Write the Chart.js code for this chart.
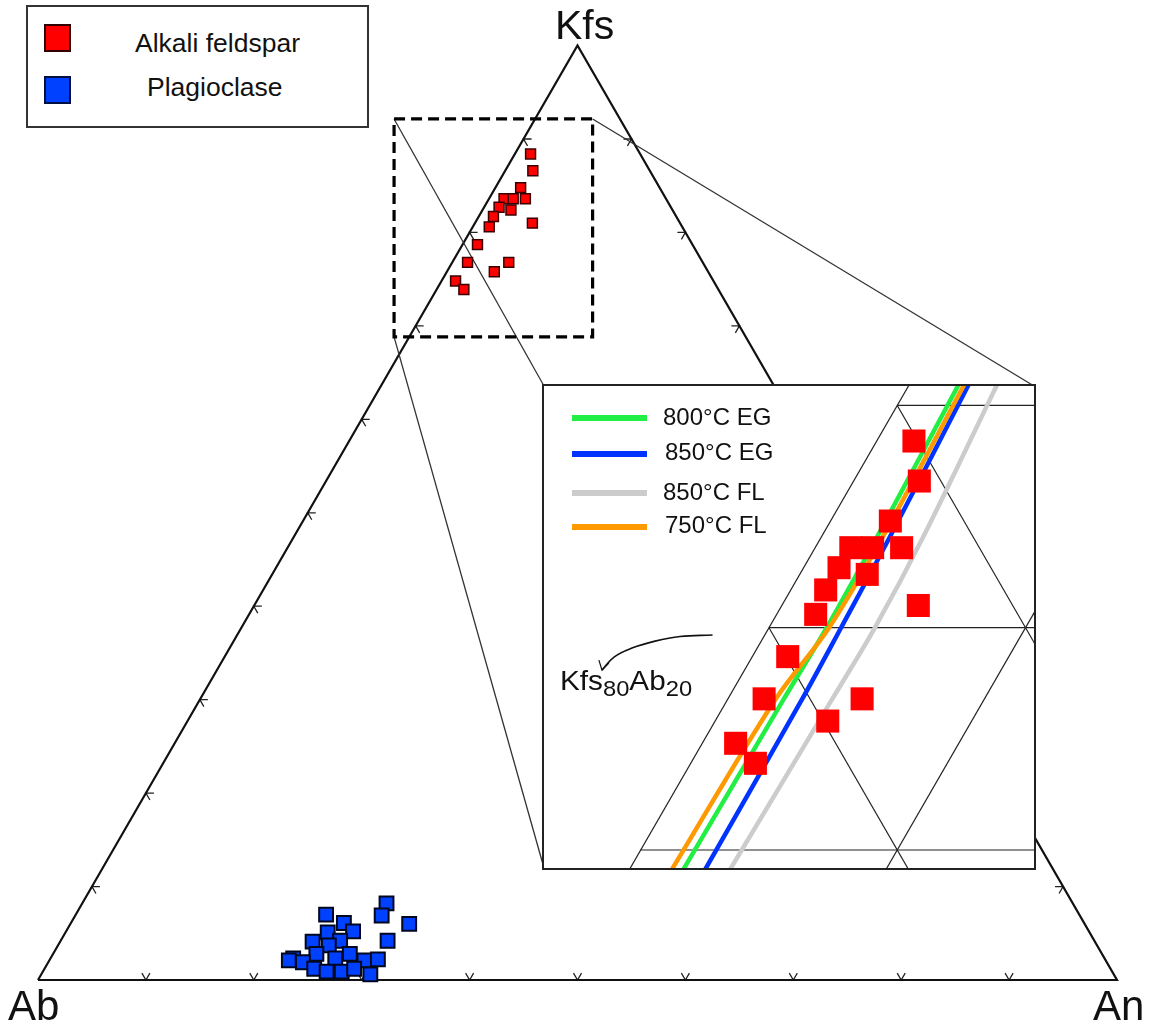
<!DOCTYPE html>
<html>
<head>
<meta charset="utf-8">
<script src="https://cdn.jsdelivr.net/npm/chart.js@4.4.1/dist/chart.umd.min.js"></script>
<style>
  body { margin: 0; background: #fff; }
  #wrap { position: relative; width: 1149px; height: 1025px; background: #fff; overflow: hidden;
          font-family: "Liberation Sans", Arial, sans-serif; color: #111; }
  .lbl { position: absolute; white-space: nowrap; line-height: 1; }
  #insetBox { position: absolute; left: 544px; top: 386px; width: 490px; height: 482px; background: #fff; }
  #insetBorder { position: absolute; left: 542px; top: 384px; width: 494px; height: 486px;
                 box-sizing: border-box; border: 2px solid #222; pointer-events: none; }
  #legend { position: absolute; left: 26px; top: 5px; width: 343px; height: 123px;
            box-sizing: border-box; border: 2px solid #333; background: #fff; }
  .sw { position: absolute; width: 27px; height: 28px; box-sizing: border-box; border: 2px solid #300; }
  .iso { position: absolute; height: 6px; width: 75px; }
  sub { font-size: 0.8em; vertical-align: -0.3em; line-height: 0; }
</style>
</head>
<body>
<div id="wrap">
  <canvas id="mainChart" width="1149" height="1025"></canvas>
  <div id="insetBox"><canvas id="insetChart" width="490" height="482"></canvas></div>
  <div id="insetBorder"></div>

  <div id="legend">
    <div class="sw" style="left:16px;top:17px;background:#ff0000;"></div>
    <div class="lbl" style="left:107px;top:23px;font-size:26.5px;">Alkali feldspar</div>
    <div class="sw" style="left:16px;top:69px;background:#0040ff;border-color:#001040;"></div>
    <div class="lbl" style="left:119px;top:67px;font-size:26.5px;">Plagioclase</div>
  </div>

  <div class="lbl" style="left:555px;top:5px;font-size:41px;">Kfs</div>
  <div class="lbl" style="left:8px;top:985px;font-size:42px;">Ab</div>
  <div class="lbl" style="left:1093px;top:985px;font-size:42px;">An</div>

  <div class="iso" style="left:572px;top:415px;background:#22ee44;"></div>
  <div class="lbl" style="left:663px;top:405px;font-size:24px;">800°C EG</div>
  <div class="iso" style="left:572px;top:451px;background:#0033ff;"></div>
  <div class="lbl" style="left:665px;top:440px;font-size:24px;">850°C EG</div>
  <div class="iso" style="left:572px;top:490px;background:#cccccc;"></div>
  <div class="lbl" style="left:663px;top:480px;font-size:24px;">850°C FL</div>
  <div class="iso" style="left:572px;top:524px;background:#ff9900;"></div>
  <div class="lbl" style="left:665px;top:513px;font-size:24px;">750°C FL</div>

  <div class="lbl" style="left:560px;top:668px;font-size:27px;transform:scaleX(1.1);transform-origin:left;">Kfs<sub>80</sub>Ab<sub>20</sub></div>
</div>

<script>
// ternary compositions in %, Kfs and An (Ab = 100 - Kfs - An)
const alkaliKfs = [88.4, 86.6, 84.8, 83.6, 83.6, 83.6, 82.7, 82.4, 81.7, 80.6, 81.0, 78.7, 76.8, 76.8, 75.8, 74.8, 73.9];
const alkaliAn  = [1.45, 2.56, 2.33, 1.39, 2.24, 3.37, 1.38, 2.63, 1.36, 1.52, 5.32, 1.38, 1.41, 5.23, 4.39, 1.30, 2.52];

const plagKfs = [8.2, 6.9, 6.0, 7.0, 6.1, 5.2, 5.1, 4.1, 4.2, 3.7, 4.2, 2.8, 2.8, 2.3, 2.1, 1.9, 2.3, 2.1, 2.2, 1.2, 0.9, 0.9, 1.2, 0.6];
const plagAn  = [28.2, 28.4, 31.4, 23.2, 25.3, 26.6, 24.3, 23.4, 25.9, 25.1, 30.3, 24.4, 27.5, 22.5, 22.2, 23.6, 26.4, 29.2, 30.4, 25.0, 26.3, 27.7, 28.7, 30.5];

// isotherms (An % along Kfs %)
const isoKfs   = [91, 84.1, 80, 76.75, 69];
const eg800An  = [1.92, 2.17, 2.25, 2.18, 2.10];
const eg850An  = [2.31, 2.67, 2.81, 2.90, 2.95];
const fl850An  = [3.42, 3.97, 4.13, 4.07, 3.92];
const fl750An  = [2.14, 2.39, 2.34, 1.86, 1.65];

const tickPercents = [10, 20, 30, 40, 50, 60, 70, 80, 90];
const insetKfsGrid = [70, 80, 90];
const insetAnGrid  = [0, 10];
const insetAbGrid  = [10, 20];

// zoom window drawn on the main triangle (cartesian units of the triangle side)
const zoomBoxX = [0.330, 0.514];
const zoomBoxY = [0.596, 0.798];
// curved pointer to Kfs80Ab20 (cartesian)
const pointerX = [0.3780, 0.3653, 0.3556, 0.3466, 0.3396, 0.3349];
const pointerY = [0.6900, 0.6894, 0.6876, 0.6849, 0.6814, 0.6763];
const pointerHeadX = [0.3337, 0.3349, 0.3376];
const pointerHeadY = [0.6802, 0.6763, 0.6790];

const W = 1149, H = 1025;
const SIDE = 1079, AB_X = 38, AB_Y = 980;   // main triangle placement
const INSET = { left: 544, top: 386, w: 490, h: 482 };
const INSET_VIEW = { x0: 0.3123, x1: 0.5033, y0: 0.5992, y1: 0.7870 };
const R3 = Math.sqrt(3) / 2;

function tern(kfs, an) {
    return { x: an / 100 + kfs / 200, y: kfs / 100 * R3 };
}

function lineSet(points, color, width, extra) {
    return Object.assign({
        data: points,
        showLine: true,
        borderColor: color,
        borderWidth: width,
        pointRadius: 0,
        fill: false,
        tension: 0
    }, extra || {});
}

function baseOptions(xr, yr) {
    return {
        responsive: false,
        animation: false,
        events: [],
        layout: { padding: 0, autoPadding: false },
        plugins: { legend: { display: false }, tooltip: { enabled: false } },
        scales: {
            x: { type: 'linear', display: false, min: xr[0], max: xr[1] },
            y: { type: 'linear', display: false, min: yr[0], max: yr[1] }
        }
    };
}

// ---- main triangle ----
const mainSets = [];

mainSets.push({
    data: alkaliKfs.map((k, i) => tern(k, alkaliAn[i])),
    pointStyle: 'rect',
    pointRadius: 7,
    backgroundColor: '#ff0000',
    borderColor: '#3a0000',
    borderWidth: 1.5
});
mainSets.push({
    data: plagKfs.map((k, i) => tern(k, plagAn[i])),
    pointStyle: 'rect',
    pointRadius: 9.8,
    backgroundColor: '#0040ff',
    borderColor: '#000820',
    borderWidth: 2
});

// dashed zoom box
mainSets.push(lineSet([
    { x: zoomBoxX[0], y: zoomBoxY[1] }, { x: zoomBoxX[1], y: zoomBoxY[1] },
    { x: zoomBoxX[1], y: zoomBoxY[0] }, { x: zoomBoxX[0], y: zoomBoxY[0] },
    { x: zoomBoxX[0], y: zoomBoxY[1] }
], '#000', 3.2, { borderDash: [11, 6] }));

// connectors from zoom box to the inset
const insetL = (INSET.left - AB_X) / SIDE, insetR = (INSET.left + INSET.w - AB_X) / SIDE;
const insetT = (AB_Y - INSET.top) / SIDE, insetB = (AB_Y - INSET.top - INSET.h) / SIDE;
mainSets.push(lineSet([{ x: zoomBoxX[0], y: zoomBoxY[1] }, { x: insetL, y: insetT }], '#333', 1.3));
mainSets.push(lineSet([{ x: zoomBoxX[1], y: zoomBoxY[1] }, { x: insetR, y: insetT }], '#333', 1.3));
mainSets.push(lineSet([{ x: zoomBoxX[0], y: zoomBoxY[0] }, { x: insetL, y: insetB }], '#333', 1.3));

// triangle edges
mainSets.push(lineSet([tern(0, 0), tern(0, 100), tern(100, 0), tern(0, 0)], '#111', 2.2));

// tick marks: small chevrons on each edge
const tickLen = 8 / SIDE;
function chevron(p, a1, a2) {
    return [
        { x: p.x + tickLen * Math.cos(a1), y: p.y + tickLen * Math.sin(a1) },
        p,
        { x: p.x + tickLen * Math.cos(a2), y: p.y + tickLen * Math.sin(a2) }
    ];
}
const deg = Math.PI / 180;
tickPercents.forEach(t => {
    mainSets.push(lineSet(chevron(tern(0, t), 60 * deg, 120 * deg), '#222', 1.3));        // Ab-An edge
    mainSets.push(lineSet(chevron(tern(t, 0), 0, -60 * deg), '#222', 1.3));               // Ab-Kfs edge
    mainSets.push(lineSet(chevron(tern(t, 100 - t), 180 * deg, 240 * deg), '#222', 1.3)); // Kfs-An edge
});

new Chart(document.getElementById('mainChart'), {
    type: 'scatter',
    data: { datasets: mainSets },
    options: baseOptions([-AB_X / SIDE, (W - AB_X) / SIDE], [-(H - AB_Y) / SIDE, AB_Y / SIDE])
});

// ---- inset (enlarged view of the alkali feldspar field) ----
const insetSets = [];

insetSets.push({
    data: alkaliKfs.map((k, i) => tern(k, alkaliAn[i])),
    pointStyle: 'rect',
    pointRadius: 16.3,
    backgroundColor: '#ff0000',
    borderWidth: 0
});

const isoStyle = { tension: 0.35, borderCapStyle: 'butt' };
insetSets.push(lineSet(isoKfs.map((k, i) => tern(k, fl750An[i])), '#ff9900', 4.5, isoStyle));
insetSets.push(lineSet(isoKfs.map((k, i) => tern(k, eg800An[i])), '#22ee44', 4.5, isoStyle));
insetSets.push(lineSet(isoKfs.map((k, i) => tern(k, eg850An[i])), '#0033ff', 4.5, isoStyle));
insetSets.push(lineSet(isoKfs.map((k, i) => tern(k, fl850An[i])), '#cccccc', 4.5, isoStyle));

// pointer arrow
insetSets.push(lineSet(pointerX.map((x, i) => ({ x: x, y: pointerY[i] })), '#111', 1.6, { tension: 0.4 }));
insetSets.push(lineSet(pointerHeadX.map((x, i) => ({ x: x, y: pointerHeadY[i] })), '#111', 1.2));

// ternary grid lines inside the inset
insetKfsGrid.forEach(k => insetSets.push(lineSet([tern(k, 0), tern(k, 100 - k)], '#222', 1.2)));
insetAnGrid.forEach(a => insetSets.push(lineSet([tern(0, a), tern(100 - a, a)], '#222', 1.2)));
insetAbGrid.forEach(b => insetSets.push(lineSet([tern(0, 100 - b), tern(100 - b, 0)], '#222', 1.2)));

new Chart(document.getElementById('insetChart'), {
    type: 'scatter',
    data: { datasets: insetSets },
    options: baseOptions([INSET_VIEW.x0, INSET_VIEW.x1], [INSET_VIEW.y0, INSET_VIEW.y1])
});
</script>
</body>
</html>
